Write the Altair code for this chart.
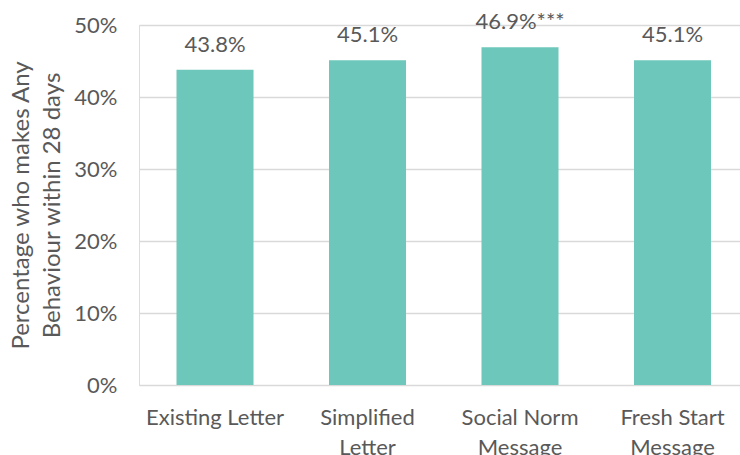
import altair as alt
import pandas as pd

# Categories (line breaks mark where axis labels wrap) and the share for each
categories = ["Existing Letter", "Simplified\nLetter", "Social Norm\nMessage", "Fresh Start\nMessage"]
shares = [0.438, 0.451, 0.469, 0.451]
labels = ["43.8%", "45.1%", "46.9%***", "45.1%"]

df = pd.DataFrame({"group": categories, "share": shares, "label": labels})

FONT = "Lato"
TEXT = "#595959"
BAR = "#6DC7BA"
GRID = "#D9D9D9"

x = alt.X(
    "group:N",
    sort=categories,
    scale=alt.Scale(paddingInner=0.495, paddingOuter=0.218, align=0.564),
    axis=alt.Axis(
        title=None,
        labelAngle=0,
        labelExpr="split(datum.label, '\\n')",
        labelFont=FONT,
        labelFontSize=22,
        labelColor=TEXT,
        labelBaseline="alphabetic",
        labelPadding=39,
        labelLineHeight=30,
        ticks=False,
        tickSize=0,
        domain=False,
        grid=False,
    ),
)

y = alt.Y(
    "share:Q",
    scale=alt.Scale(domain=[0, 0.5], nice=False),
    axis=alt.Axis(
        title=["Percentage who makes Any", "Behaviour within 28 days"],
        titleFont=FONT,
        titleFontSize=24,
        titleFontWeight="normal",
        titleColor=TEXT,
        titleAngle=270,
        titleAlign="center",
        titleBaseline="alphabetic",
        titleLineHeight=31,
        titleX=-111,
        titleY=180,
        values=[0, 0.1, 0.2, 0.3, 0.4, 0.5],
        format=".0%",
        labelFont=FONT,
        labelFontSize=22,
        labelColor=TEXT,
        labelPadding=22,
        ticks=False,
        tickSize=0,
        domain=False,
        grid=True,
        gridColor=GRID,
        gridWidth=1.5,
    ),
)

bars = alt.Chart(df).mark_bar(color=BAR).encode(x=x, y=y)

text = alt.Chart(df).mark_text(
    font=FONT, fontSize=22, color=TEXT, baseline="alphabetic", dy=-18
).encode(
    x=alt.X("group:N", sort=categories),
    y=alt.Y("share:Q"),
    text="label:N",
)

chart = (
    alt.layer(bars, text)
    .properties(
        width=601,
        height=360,
        padding={"left": 139, "top": 25, "right": 0, "bottom": 70},
        autosize=alt.AutoSizeParams(type="none"),
    )
    .configure_view(stroke=None)
    .configure(background="white")
)

chart.save("out.html", embed_options={"renderer": "svg", "actions": False})
